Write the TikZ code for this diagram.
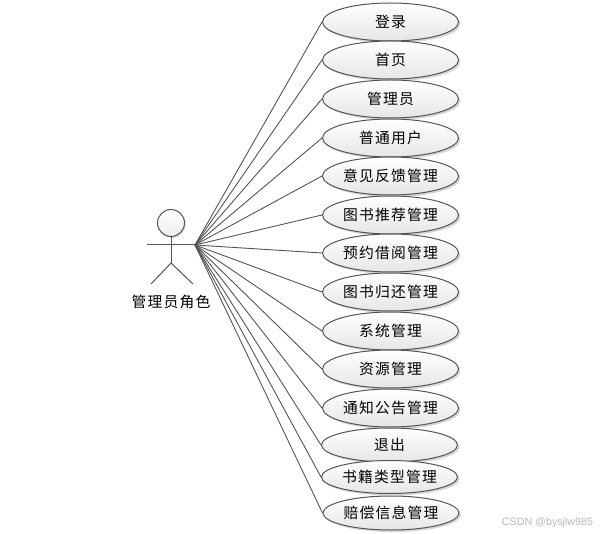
\documentclass[tikz,border=0pt]{standalone}
\usepackage{fontspec}
\usepackage{xcolor}
\usepackage{tikz}
\usetikzlibrary{shadows,shapes.geometric}
\setmainfont{Noto Sans CJK SC}[LetterSpace=8]
\newfontfamily\markfont{Liberation Sans}
\definecolor{edgec}{RGB}{85,85,85}
\definecolor{fillc}{RGB}{230,230,230}
\tikzset{
  usecase/.style={ellipse,draw=edgec,line width=1pt,top color=white,bottom color=fillc,inner sep=0pt,
    minimum width=136pt,minimum height=#1,font=\fontsize{14.8pt}{17pt}\selectfont,
    drop shadow={shadow xshift=2pt,shadow yshift=-2pt,fill=black,opacity=.16}},
  usecase/.default=38pt,
  figline/.style={draw=edgec,line width=1pt},
  link/.style={draw=edgec,line width=.9pt}
}
\begin{document}
\begin{tikzpicture}[x=1pt,y=-1pt]
\useasboundingbox (0,0) rectangle (602,534);
% actor
\node[circle,figline,top color=white,bottom color=fillc!70,minimum size=27pt,inner sep=0pt,
  drop shadow={shadow xshift=1.5pt,shadow yshift=-1.5pt,fill=black,opacity=.12}] (head) at (171,223) {};
\coordinate (hand) at (195,245);
\coordinate (armleft) at (147,245);
\coordinate (waist) at (171,263);
\coordinate (footleft) at (151,284);
\coordinate (footright) at (193,284);
\draw[figline] (head.south) -- (waist);
\draw[figline] (armleft) -- (hand);
\draw[figline] (footleft) -- (waist) -- (footright);
\node[font=\fontsize{14.8pt}{17pt}\selectfont,inner sep=0pt] (actor) at (171,302) {管理员角色};
% use cases, last three are flatter
\foreach \n/\x/\y/\h/\l in {a/390.5/22/38/登录, b/390.5/60/38/首页, c/390.5/99/38/管理员, d/390.5/138/38/普通用户,
  e/390.5/176/38/意见反馈管理, f/390.5/215/38/图书推荐管理, g/390.5/253/38/预约借阅管理, h/390.5/292/38/图书归还管理,
  i/390.5/331/38/系统管理, j/390.5/369/38/资源管理, k/390.5/408/38/通知公告管理, l/389.5/445/34/退出,
  m/389.5/477/33/书籍类型管理, n/391/513/34/赔偿信息管理} {
  \node[usecase=\h pt] (\n) at (\x,\y) {\l};
  \draw[link] (hand) -- (\n.west);
}
\node[font=\markfont\fontsize{10.7pt}{12pt}\selectfont,text=black!28,inner sep=0pt] (mark) at (547.5,522.5) {CSDN @bysjlw985};
\end{tikzpicture}
\end{document}
